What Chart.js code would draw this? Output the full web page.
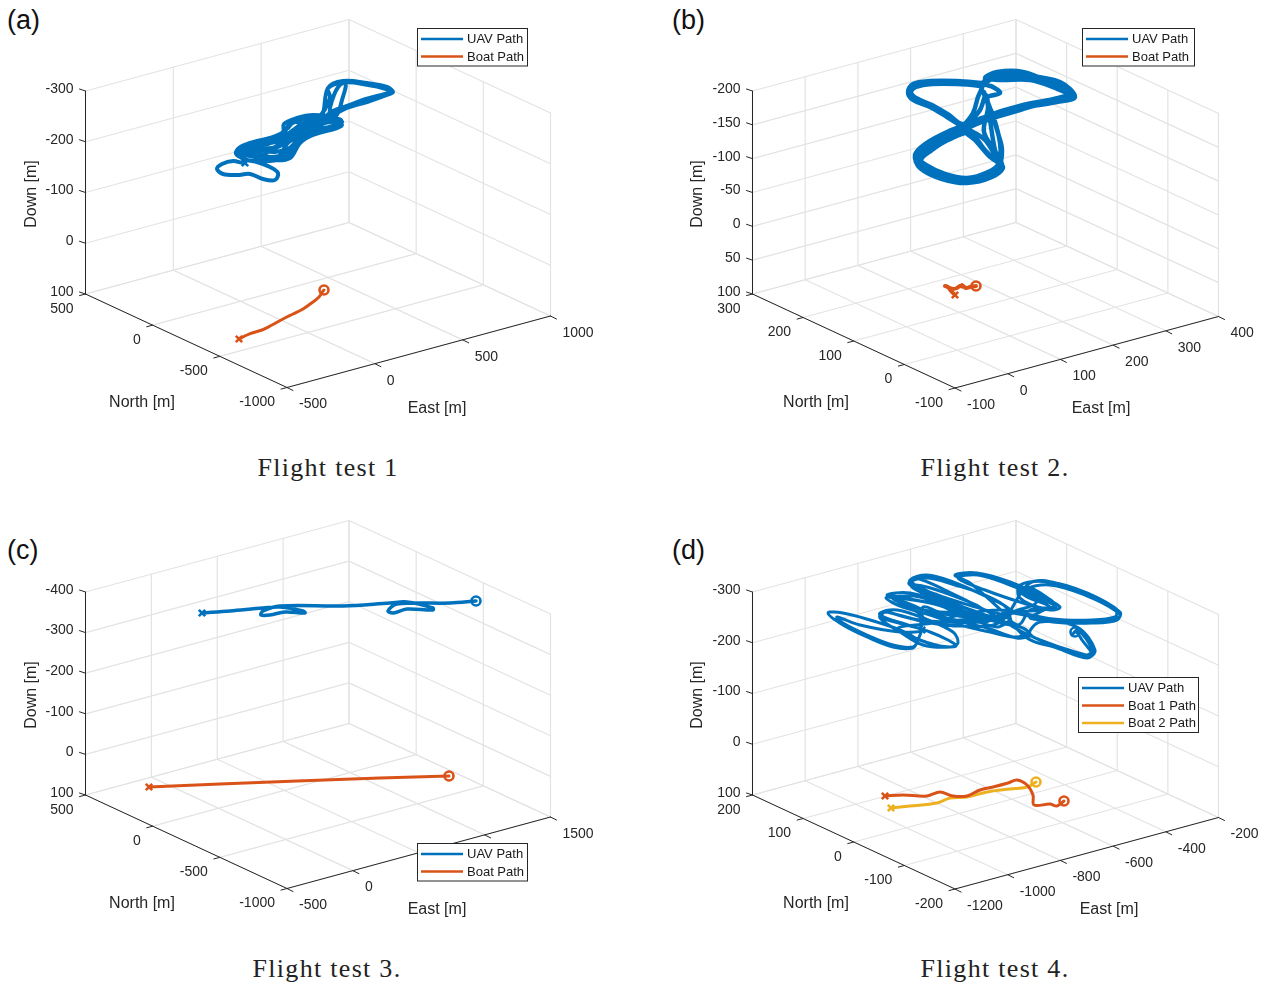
<!DOCTYPE html>
<html>
<head>
<meta charset="utf-8">
<title>Flight tests</title>
<script src="https://cdn.jsdelivr.net/npm/chart.js@4/dist/chart.umd.min.js"></script>
<style>
  html, body { margin: 0; padding: 0; background: #fff; }
  #page { position: relative; width: 1263px; height: 984px; overflow: hidden; }
  #page canvas { position: absolute; }
  .letter { position: absolute; font: 27px "Liberation Sans", sans-serif; color: #111; }
  .caption { position: absolute; font: 26px "Liberation Serif", serif; letter-spacing: 1.3px; color: #222; transform: translateX(-50%); white-space: nowrap; }
</style>
</head>
<body>
<div id="page">
  <div class="letter" style="left:7px;top:5px">(a)</div>
  <div class="letter" style="left:672px;top:5px">(b)</div>
  <div class="letter" style="left:7px;top:535px">(c)</div>
  <div class="letter" style="left:672px;top:535px">(d)</div>
  <div class="caption" style="left:328px;top:453px">Flight test 1</div>
  <div class="caption" style="left:995px;top:453px">Flight test 2.</div>
  <div class="caption" style="left:327px;top:954px">Flight test 3.</div>
  <div class="caption" style="left:995px;top:954px">Flight test 4.</div>
</div>
<script>
Chart.defaults.animation = false;

// tick values of the four 3D boxes
const eastTicksA = [-500, 0, 500, 1000];
const northTicksA = [-1000, -500, 0, 500];
const downTicksA = [-300, -200, -100, 0, 100];
const eastTicksB = [-100, 0, 100, 200, 300, 400];
const northTicksB = [-100, 0, 100, 200, 300];
const downTicksB = [-200, -150, -100, -50, 0, 50, 100];
const eastTicksC = [-500, 0, 500, 1000, 1500];
const northTicksC = [-1000, -500, 0, 500];
const downTicksC = [-400, -300, -200, -100, 0, 100];
const eastTicksD = [-1200, -1000, -800, -600, -400, -200];
const northTicksD = [-200, -100, 0, 100, 200];
const downTicksD = [-300, -200, -100, 0, 100];

const uavPathA = [[245,163],[243,163],[233,161],[222,164],[217,169],[223,174],[237,175],[250,174],[263,179],[275,180],[278,173],[270,167],[257,162],[247,160],
  [238,156],[236,152],[242,146],[257,141],[270,138],[283,132],[284,124],[297,118],[313,115],[336,118],[342,125],[337,128],[313,135],[300,143],[290,158],[273,160],[253,155],[238,153],
  [245,149],[262,146],[270,142],[284,137],[296,128],[316,121],[338,120],[340,126],[322,128],[304,136],[293,150],[284,156],[270,157],[256,153],[243,150],
  [252,144],[268,144],[284,134],[288,126],[300,120],[312,119],[322,116],[328,88],[343,81],[367,83],[387,87],[393,92],[387,95],[367,102],[347,108],[333,115],[320,120],[300,128],[285,140],[275,147],
  [262,150],[255,158],[270,161],[288,156],[298,140],[312,131],[336,127],[341,120],[330,116],[334,95],[343,83],[368,85],[386,89],[391,92],[385,94],[366,99],[347,106],[333,111],[316,124],[300,132],[287,144],
  [277,158],[262,158],[245,155],[240,152],[258,143],[282,139],[300,125],[318,118],[330,98],[328,88],[345,83],[342,100],[336,116],[322,124],
  [305,130],[292,140],[280,146],[262,156],[280,156],[290,148],[310,128],[330,122],[342,122],[320,130],[298,138],[270,143],[250,147],[240,153],[255,150],[275,152],[294,145],[305,126],[294,122],[288,128]];
const uavPathB = [[982,83],[957,81],[930,81],[913,84],[908,92],[913,100],[930,107],[947,117],[960,125],[973,132],[985,140],[995,155],[1002,165],[990,175],[967,181],[943,177],[923,167],[917,157],[927,147],[947,135],[973,125],[1000,115],[1023,108],[1057,102],[1075,97],[1060,82],[1023,75],[997,74],[985,80],[982,88],[978,97],[973,113],[962,127],
  [950,137],[930,150],[920,158],[926,165],[945,174],[967,178],[988,172],[999,163],[1000,143],[993,115],[987,98],[1000,93],[993,87],[985,84],[997,77],[1023,78],[1058,85],[1072,96],[1055,99],[1023,105],[1000,112],[973,122],[947,132],[925,144],[915,155],[920,168],[942,179],[967,183],[992,177],[1003,167],
  [990,157],[975,140],[965,130],[980,110],[986,95],[990,120],[995,150],[1001,165],[985,150],[970,133],[948,140],[932,150],[921,160],[928,170],[948,177],[968,180],[990,173],[999,160],[984,132],[988,106],[982,90],
  [980,86],[957,84],[932,84],[916,87],[911,92],[916,98],[932,105],[949,115],[962,124],[982,118],[1005,110],[1030,104],[1058,98],[1071,93],[1056,85],[1023,72],[997,72],[985,78],
  [1000,80],[1030,80],[1055,88],[1068,95],[1050,101],[1020,110],[990,119],[960,131],[938,140],[922,152],[919,164],[935,175],[955,180],[980,178],[998,168],[1002,150],[997,130],[990,108],[984,92]];
const uavPathC = [[202,613],[230,611],[263,608],[280,607],[303,611],[305,613],[285,612],[270,615],[261,615],[263,611],[280,606],[343,606],[390,603],[407,602],[433,608],[433,610],[407,609],[393,613],[388,611],[397,604],[450,603],[476,601]];
const uavPathD = [[922,630],[917,642],[913,648],[893,647],[867,637],[843,625],[828,613],[843,613],[870,620],[900,630],[917,640],[913,647],[893,645],[867,635],[843,623],[837,617],[860,625],[900,632],[923,630],
  [882,618],[880,613],[897,610],[923,618],[953,632],[958,643],[950,647],[923,645],[900,632],[880,618],[884,612],[920,620],[970,622],[1010,614],
  [983,617],[943,603],[910,593],[887,595],[907,603],[943,617],[987,628],[1017,638],[1030,635],[1023,628],[983,617],[945,606],[905,598],[890,596],[910,606],[950,615],
  [1003,618],[1010,610],[987,597],[953,582],[927,575],[910,580],[913,588],[937,598],[970,610],[1003,618],[1007,608],[985,595],[955,585],[928,578],[912,582],[935,594],[972,606],[1005,615],
  [1003,612],[970,583],[955,575],[977,573],[1010,582],[1043,597],[1060,607],[1050,610],[1023,603],[985,590],[958,578],[978,575],[1010,585],[1040,598],[1056,607],[1045,609],[1020,598],
  [1020,585],[1050,582],[1087,593],[1120,612],[1117,620],[1093,623],[1053,622],[1010,613],[985,622],[950,618],[1000,610],[1053,619],[1092,620],[1115,617],[1116,611],[1085,595],[1050,585],[1026,590],[1036,603],
  [1010,615],[1027,638],[1057,648],[1087,658],[1095,650],[1077,627],[1040,622],[1030,634],[1056,646],[1086,655],[1092,650],[1078,630],[1072,635],[1076,632],
  [1082,640],[1092,655],[1075,652],[1040,640],[1015,628],[985,610],[945,590],[915,578],[909,584],[925,592],[955,604],[985,615],[1000,622],[970,615],[930,603],[898,598],[886,598],[900,606],[930,615],[960,625],[990,632],[1015,637],[1028,632],
  [1012,622],[1005,612],[1020,612],[1055,606],[1042,594],[1026,587],[1024,594],[1048,606],[1030,618],[1060,620],[1100,622],[1120,615],[1100,600],[1060,584],[1030,583],
  [1000,622],[960,626],[925,622],[905,617],[885,612],[882,616],[905,624],[930,632],[948,640],[956,646],[940,646],[915,638],[898,628],[925,624],[960,620],[1010,618],
  [997,627],[957,613],[920,597],[893,598],[910,608],[923,617],[921,627],[923,607],[940,612],[983,610],[937,590],[912,585],[935,600],[975,615],[1018,625],[1030,610],[1050,607],[1027,597],[1018,590],[1040,600]];

const boatPathA = [[239,339],[247,335],[252,333],[262,330],[272,325],[283,319],[293,314],[303,309],[313,302],[319,297],[323,291],[324,290]];
const boatPathB = [[955,295],[951,291],[948,287],[945,286],[950,288],[953,289],[957,288],[960,286],[964,287],[962,285],[966,288],[970,287],[976,286]];
const boatPathC = [[149,787],[220,784],[297,781],[380,778],[449,776]];
const boat1PathD = [[885,796],[903,795],[927,796],[940,792],[953,796],[967,796],[980,790],[993,787],[1008,783],[1017,780],[1027,785],[1033,795],[1034,805],[1050,804],[1057,806],[1064,801]];
const boat2PathD = [[891,808],[910,806],[937,803],[950,798],[967,797],[987,792],[1010,789],[1027,787],[1036,782]];

const BLUE = '#0072BD', RED = '#D95319', YELLOW = '#EDB120';
const GRID = '#e3e3e3', AXIS = '#262626';

const panels = [
  {
    view: { x0: 0, x1: 640, y0: 0, y1: 500 },
    east: eastTicksA, north: northTicksA, down: downTicksA,
    box: { L: [85.5, 294], F: [287, 387.5], R: [550.5, 316], B: [348.5, 222.5], h: 203 },
    northLabel: [142, 403], eastLabel: [437, 409], downLabel: [32, 194],
    legend: { x: 417, y: 28, w: 111, names: ['UAV Path', 'Boat Path'] },
    paths: [
      { pts: uavPathA, color: BLUE, width: 4, cross: [245, 163] },
      { pts: boatPathA, color: RED, width: 3, cross: boatPathA[0], circle: [324, 290] }
    ]
  },
  {
    view: { x0: 640, x1: 1263, y0: 0, y1: 500 },
    east: eastTicksB, north: northTicksB, down: downTicksB,
    box: { L: [752.5, 294], F: [955, 388], R: [1218.5, 316.5], B: [1016, 222.5], h: 203 },
    northLabel: [816, 403], eastLabel: [1101, 409], downLabel: [698, 194],
    legend: { x: 1082, y: 28, w: 113, names: ['UAV Path', 'Boat Path'] },
    paths: [
      { pts: uavPathB, color: BLUE, width: 4.5 },
      { pts: boatPathB, color: RED, width: 4, cross: [955, 295], circle: [976, 286] }
    ]
  },
  {
    view: { x0: 0, x1: 640, y0: 500, y1: 984 },
    east: eastTicksC, north: northTicksC, down: downTicksC,
    box: { L: [85.5, 795], F: [287, 888.5], R: [550.5, 817], B: [348.5, 723.5], h: 203 },
    northLabel: [142, 904], eastLabel: [437, 910], downLabel: [32, 695],
    legend: { x: 417, y: 843, w: 111, names: ['UAV Path', 'Boat Path'] },
    paths: [
      { pts: uavPathC, color: BLUE, width: 3.5, cross: [202, 613], circle: [476, 601] },
      { pts: boatPathC, color: RED, width: 3, cross: [149, 787], circle: [449, 776] }
    ]
  },
  {
    view: { x0: 640, x1: 1263, y0: 500, y1: 984 },
    east: eastTicksD, north: northTicksD, down: downTicksD,
    box: { L: [752.5, 795], F: [955, 889], R: [1218.5, 817.5], B: [1016, 723.5], h: 203 },
    northLabel: [816, 904], eastLabel: [1109, 910], downLabel: [698, 695],
    legend: { x: 1078, y: 677, w: 121, names: ['UAV Path', 'Boat 1 Path', 'Boat 2 Path'] },
    paths: [
      { pts: uavPathD, color: BLUE, width: 3, cross: [922, 630], circle: [1075, 632] },
      { pts: boat1PathD, color: RED, width: 3, cross: [885, 796], circle: [1064, 801] },
      { pts: boat2PathD, color: YELLOW, width: 3, cross: [891, 808], circle: [1036, 782] }
    ]
  }
];

const legendColors = [BLUE, RED, YELLOW];

// east/north/down -> flat view units
function project(p, e, n, d) {
  const { F, R, L, h } = p.box;
  const te = (e - p.east[0]) / (p.east[p.east.length - 1] - p.east[0]);
  const tn = (n - p.north[0]) / (p.north[p.north.length - 1] - p.north[0]);
  const dn = p.down.length - 1;
  const td = (p.down[dn] - d) / (p.down[dn] - p.down[0]);
  return {
    x: F[0] + te * (R[0] - F[0]) + tn * (L[0] - F[0]),
    y: F[1] + te * (R[1] - F[1]) + tn * (L[1] - F[1]) - td * h
  };
}

function lineSet(points, color, width, order) {
  return { data: points, showLine: true, borderColor: color, borderWidth: width, pointRadius: 0, order: order, tension: 0, borderCapStyle: 'round' };
}

function gridSets(p) {
  const sets = [];
  const eMin = p.east[0], eMax = p.east[p.east.length - 1];
  const nMin = p.north[0], nMax = p.north[p.north.length - 1];
  const dTop = p.down[0], dBot = p.down[p.down.length - 1];
  const add = (a, b) => sets.push(lineSet([a, b], GRID, 1.2, 5));

  p.east.forEach(e => {
    add(project(p, e, nMin, dBot), project(p, e, nMax, dBot));   // floor
    add(project(p, e, nMax, dBot), project(p, e, nMax, dTop));   // back wall
  });
  p.north.forEach(n => {
    add(project(p, eMin, n, dBot), project(p, eMax, n, dBot));   // floor
    add(project(p, eMax, n, dBot), project(p, eMax, n, dTop));   // side wall
  });
  p.down.forEach(d => {
    add(project(p, eMin, nMax, d), project(p, eMax, nMax, d));
    add(project(p, eMax, nMax, d), project(p, eMax, nMin, d));
  });
  return sets;
}

function axisSets(p) {
  const sets = [];
  const eMin = p.east[0], eMax = p.east[p.east.length - 1];
  const nMin = p.north[0], nMax = p.north[p.north.length - 1];
  const dTop = p.down[0], dBot = p.down[p.down.length - 1];
  const add = (a, b) => sets.push(lineSet([a, b], AXIS, 1, 4));
  const tick = (a, dx, dy) => add(a, { x: a.x + dx, y: a.y + dy });

  add(project(p, eMin, nMax, dBot), project(p, eMin, nMax, dTop));
  add(project(p, eMin, nMax, dBot), project(p, eMin, nMin, dBot));
  add(project(p, eMin, nMin, dBot), project(p, eMax, nMin, dBot));
  p.down.forEach(d => tick(project(p, eMin, nMax, d), -6, -2));
  p.north.forEach(n => tick(project(p, eMin, n, dBot), -6, 1.6));
  p.east.forEach(e => tick(project(p, e, nMin, dBot), 6, 3));
  return sets;
}

function pathSets(p) {
  const sets = [];
  p.paths.forEach(path => {
    const line = lineSet(path.pts.map(q => ({ x: q[0], y: q[1] })), path.color, path.width, 3);
    line.tension = 0.35;
    sets.push(line);
    if (path.cross) {
      sets.push({ data: [{ x: path.cross[0], y: path.cross[1] }], pointStyle: 'crossRot', pointRadius: 4.5, pointBorderWidth: 2.6, pointBorderColor: path.color, order: 2 });
    }
    if (path.circle) {
      sets.push({ data: [{ x: path.circle[0], y: path.circle[1] }], pointStyle: 'circle', pointRadius: 4.5, pointBorderWidth: 2.6, pointBorderColor: path.color, pointBackgroundColor: 'rgba(255,255,255,0)', order: 2 });
    }
  });
  return sets;
}

// tick labels, axis titles and legend are text on top of the marks
const textPlugin = {
  id: 'boxText',
  afterDatasetsDraw(chart, args, opts) {
    const p = opts.panel, ctx = chart.ctx;
    const sx = v => chart.scales.x.getPixelForValue(v);
    const sy = v => chart.scales.y.getPixelForValue(v);
    const eMin = p.east[0];
    const nMin = p.north[0], nMax = p.north[p.north.length - 1];
    const dBot = p.down[p.down.length - 1];

    ctx.save();
    ctx.fillStyle = AXIS;
    ctx.textBaseline = 'middle';
    ctx.font = '14px "Liberation Sans", sans-serif';

    ctx.textAlign = 'right';
    p.down.forEach(d => {
      const q = project(p, eMin, nMax, d);
      ctx.fillText(String(d), sx(q.x) - 12, sy(q.y) - 2);
    });
    p.north.forEach(n => {
      const q = project(p, eMin, n, dBot);
      ctx.fillText(String(n), sx(q.x) - 12, sy(q.y) + 15);
    });
    ctx.textAlign = 'left';
    p.east.forEach(e => {
      const q = project(p, e, nMin, dBot);
      ctx.fillText(String(e), sx(q.x) + 12, sy(q.y) + 17);
    });

    ctx.font = '16px "Liberation Sans", sans-serif';
    ctx.textAlign = 'center';
    ctx.fillText('North [m]', sx(p.northLabel[0]), sy(p.northLabel[1]));
    ctx.fillText('East [m]', sx(p.eastLabel[0]), sy(p.eastLabel[1]));
    ctx.save();
    ctx.translate(sx(p.downLabel[0]), sy(p.downLabel[1]));
    ctx.rotate(-Math.PI / 2);
    ctx.fillText('Down [m]', 0, 0);
    ctx.restore();

    // legend box
    const lg = p.legend;
    const rowH = 17.5;
    const x = sx(lg.x), y = sy(lg.y), hgt = lg.names.length * rowH + 3.5;
    ctx.fillStyle = '#fff';
    ctx.fillRect(x, y, lg.w, hgt);
    ctx.strokeStyle = AXIS;
    ctx.lineWidth = 1;
    ctx.strokeRect(x + 0.5, y + 0.5, lg.w - 1, hgt - 1);
    ctx.font = '13px "Liberation Sans", sans-serif';
    ctx.textAlign = 'left';
    lg.names.forEach((name, i) => {
      const ry = y + 11 + i * rowH;
      ctx.strokeStyle = legendColors[i];
      ctx.lineWidth = 2.6;
      ctx.beginPath();
      ctx.moveTo(x + 4, ry);
      ctx.lineTo(x + 46, ry);
      ctx.stroke();
      ctx.fillStyle = '#1a1a1a';
      ctx.fillText(name, x + 50, ry + 0.5);
    });
    ctx.restore();
  }
};

const page = document.getElementById('page');

panels.forEach(p => {
  const canvas = document.createElement('canvas');
  const w = p.view.x1 - p.view.x0, h = p.view.y1 - p.view.y0;
  canvas.width = w;
  canvas.height = h;
  canvas.style.left = p.view.x0 + 'px';
  canvas.style.top = p.view.y0 + 'px';
  canvas.style.width = w + 'px';
  canvas.style.height = h + 'px';
  page.appendChild(canvas);

  new Chart(canvas, {
    type: 'scatter',
    data: { datasets: [...pathSets(p), ...axisSets(p), ...gridSets(p)] },
    options: {
      responsive: false,
      devicePixelRatio: 1,
      layout: { padding: 0, autoPadding: false },
      plugins: {
        legend: { display: false },
        tooltip: { enabled: false },
        boxText: { panel: p }
      },
      scales: {
        x: { type: 'linear', display: false, min: p.view.x0, max: p.view.x1 },
        y: { type: 'linear', display: false, min: p.view.y0, max: p.view.y1, reverse: true }
      }
    },
    plugins: [textPlugin]
  });
});
</script>
</body>
</html>
